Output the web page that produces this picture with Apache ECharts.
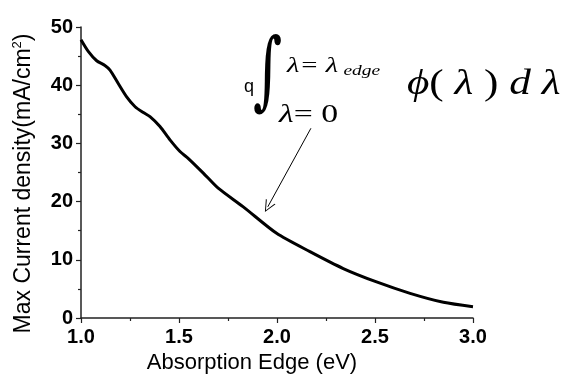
<!DOCTYPE html>
<html>
<head>
<meta charset="utf-8">
<script src="https://cdn.jsdelivr.net/npm/echarts@6/dist/echarts.min.js"></script>
<style>
  html, body { margin: 0; padding: 0; background: #fff; }
  #chart { width: 569px; height: 379px; }
</style>
</head>
<body>
<div id="chart"></div>
<script>
const edges = [1.0, 1.037, 1.08, 1.122, 1.148, 1.19, 1.233, 1.276, 1.318, 1.352, 1.403, 1.454, 1.505, 1.548, 1.624, 1.7, 1.828, 1.998, 2.168, 2.338, 2.508, 2.679, 2.849, 3.0];
const currents = [47.8, 45.8, 44.2, 43.4, 42.6, 40.3, 38.0, 36.3, 35.3, 34.6, 32.9, 30.6, 28.6, 27.4, 24.9, 22.3, 19.1, 14.55, 11.4, 8.5, 6.2, 4.24, 2.7, 1.95];
const arrowFrom = [2.173, 32.6];
const arrowTo = [1.953, 19.1];

const chart = echarts.init(document.getElementById("chart"), null, { renderer: "canvas" });
const tickLabel = { color: "#000", fontFamily: "Liberation Sans", fontWeight: "bold", fontSize: 20 };
const axisLine = { lineStyle: { color: "#222", width: 1.5 } };
const serif = "'Liberation Serif'";

chart.setOption({
  animation: false,
  grid: { left: 81, right: 96, top: 27, bottom: 61 },
  xAxis: {
    type: "value",
    min: 1.0,
    max: 3.0,
    interval: 0.5,
    name: "Absorption Edge (eV)",
    nameLocation: "middle",
    nameGap: 34,
    nameTextStyle: { color: "#000", fontFamily: "Liberation Sans", fontSize: 22, padding: [0, 50, 0, 0] },
    axisLine: axisLine,
    axisTick: { inside: false, length: 5, lineStyle: { color: "#222", width: 1.2 } },
    minorTick: { show: true, splitNumber: 2, length: 3, lineStyle: { color: "#222", width: 1.2 } },
    axisLabel: Object.assign({ margin: 9, formatter: (v) => v.toFixed(1) }, tickLabel),
    splitLine: { show: false },
  },
  yAxis: {
    type: "value",
    min: 0,
    max: 50,
    interval: 10,
    name: "Max Current density(mA/cm{sup|2})",
    nameLocation: "middle",
    nameGap: 45,
    nameTextStyle: {
      color: "#000", fontFamily: "Liberation Sans", fontSize: 23,
      padding: [0, 22, 0, 0],
      rich: { sup: { fontSize: 13, verticalAlign: "top", padding: [0, 0, 12, 0], fontFamily: "Liberation Sans" } },
    },
    axisLine: Object.assign({ show: true }, axisLine),
    axisTick: { show: true, inside: false, length: 5, lineStyle: { color: "#222", width: 1.2 } },
    minorTick: { show: true, splitNumber: 2, length: 3, lineStyle: { color: "#222", width: 1.2 } },
    axisLabel: Object.assign({ margin: 8 }, tickLabel),
    splitLine: { show: false },
  },
  series: [
    {
      type: "line",
      data: edges.map((e, i) => [e, currents[i]]),
      smooth: 0.25,
      showSymbol: false,
      lineStyle: { color: "#000", width: 3 },
      markLine: {
        silent: true,
        symbol: ["none", "path://M5,0 L10,10 L9,10 L5,1.8 L1,10 L0,10 Z"],
        symbolSize: [11, 12],
        label: { show: false },
        lineStyle: { color: "#000", width: 1, type: "solid" },
        data: [[{ coord: arrowFrom }, { coord: arrowTo }]],
      },
    },
  ],
  graphic: [
    { type: "text", left: 244, top: 78, style: { text: "q", font: "18px 'Liberation Sans'", fill: "#000" } },
    { type: "text", left: 253, top: 34, scaleX: 0.85, scaleY: 1.3, style: { text: "∫", font: "66px 'DejaVu Serif'", fill: "#000" } },
    {
      type: "text", left: 287, top: 55, scaleX: 1.3,
      style: {
        text: "{a|λ= λ}{s|edge}",
        rich: {
          a: { font: "italic 22px " + serif, fill: "#000" },
          s: { font: "italic 15px " + serif, fill: "#000", padding: [10, 0, 0, 4] },
        },
      },
    },
    {
      type: "text", left: 279, top: 102, scaleX: 1.3,
      style: {
        text: "{i|λ}{u|= 0}",
        rich: {
          i: { font: "italic 26px " + serif, fill: "#000" },
          u: { font: "26px " + serif, fill: "#000" },
        },
      },
    },
    {
      type: "text", left: 407, top: 67, scaleX: 1.2,
      style: {
        text: "{i|ϕ}{u|( }{i|λ}{u| ) }{i|d λ}",
        rich: {
          i: { font: "italic 36px " + serif, fill: "#000" },
          u: { font: "36px " + serif, fill: "#000" },
        },
      },
    },
  ],
});
</script>
</body>
</html>
